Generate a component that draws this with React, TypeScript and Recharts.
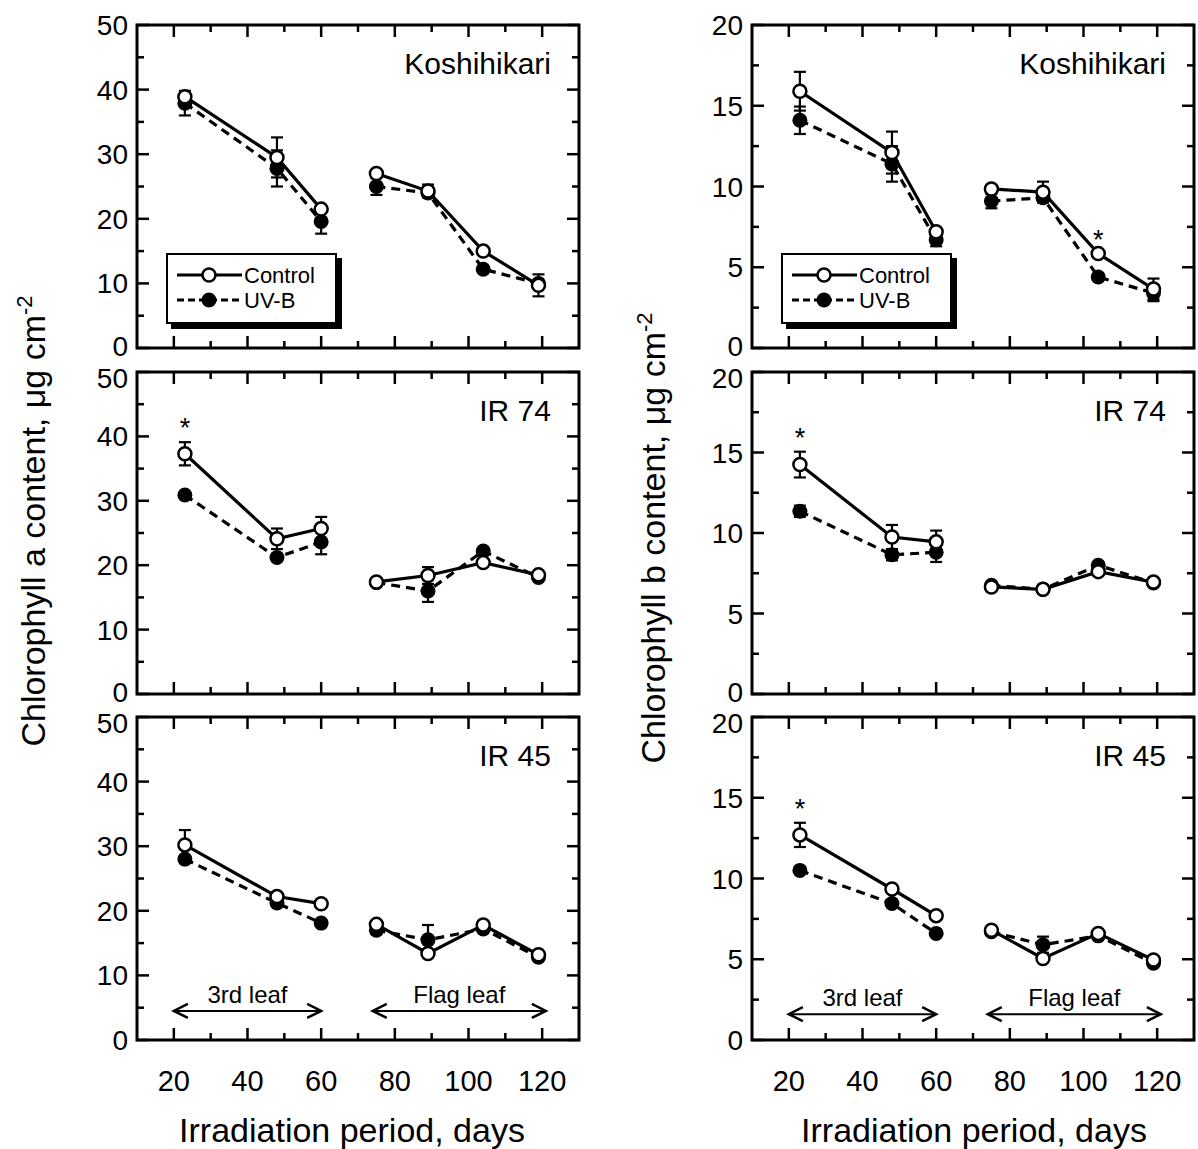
import React from 'react';
import { LineChart, Line, XAxis, YAxis, ErrorBar, ReferenceArea, ReferenceLine, ReferenceDot, Legend } from 'recharts';

// ---------- data ----------
const days = [23, 48, 60, 75, 89, 104, 119];
const leafStage = ['3rd', '3rd', '3rd', 'flag', 'flag', 'flag', 'flag'];
const xTicks = [20, 30, 40, 50, 60, 70, 80, 90, 100, 110, 120];
const yTicksA = [0, 5, 10, 15, 20, 25, 30, 35, 40, 45, 50];
const yTicksB = [0, 2.5, 5, 7.5, 10, 12.5, 15, 17.5, 20];
const leafPeriods = [
  { label: '3rd leaf', from: 20, to: 60 },
  { label: 'Flag leaf', from: 74, to: 121 },
];

// Chlorophyll a (µg cm-2)
const kosA_control = [38.9, 29.5, 21.5, 27.0, 24.3, 15.0, 9.7];
const kosA_controlErr = [0, 3.1, 0, 0, 1.0, 0, 1.7];
const kosA_uvb = [37.9, 27.8, 19.6, 25.0, 24.0, 12.2, 10.0];
const kosA_uvbErr = [1.9, 2.8, 1.9, 1.3, 0, 0, 0];

const ir74A_control = [37.3, 24.1, 25.7, 17.4, 18.4, 20.4, 18.5];
const ir74A_controlErr = [1.8, 1.6, 1.8, 0, 1.3, 0, 0];
const ir74A_uvb = [30.9, 21.2, 23.6, 17.3, 16.0, 22.2, 18.1];
const ir74A_uvbErr = [0, 0, 1.9, 0, 1.7, 0, 0];

const ir45A_control = [30.2, 22.2, 21.1, 17.9, 13.4, 17.8, 13.2];
const ir45A_controlErr = [2.3, 0, 0, 0, 0, 0, 0];
const ir45A_uvb = [28.0, 21.2, 18.1, 17.0, 15.5, 17.2, 12.8];
const ir45A_uvbErr = [0, 0, 0, 0.6, 2.3, 0, 0];

// Chlorophyll b (µg cm-2)
const kosB_control = [15.9, 12.1, 7.2, 9.85, 9.65, 5.85, 3.65];
const kosB_controlErr = [1.2, 1.3, 0, 0, 0.65, 0, 0.65];
const kosB_uvb = [14.1, 11.4, 6.7, 9.1, 9.3, 4.4, 3.4];
const kosB_uvbErr = [0.85, 1.1, 0.4, 0.45, 0, 0, 0.5];

const ir74B_control = [14.25, 9.75, 9.45, 6.65, 6.5, 7.6, 6.95];
const ir74B_controlErr = [0.8, 0.75, 0.7, 0, 0, 0, 0];
const ir74B_uvb = [11.35, 8.65, 8.8, 6.75, 6.5, 8.0, 6.9];
const ir74B_uvbErr = [0.35, 0.35, 0.6, 0, 0, 0, 0];

const ir45B_control = [12.7, 9.35, 7.7, 6.8, 5.05, 6.6, 4.95];
const ir45B_controlErr = [0.75, 0, 0, 0, 0, 0, 0];
const ir45B_uvb = [10.5, 8.45, 6.6, 6.7, 5.9, 6.45, 4.75];
const ir45B_uvbErr = [0, 0, 0, 0, 0.5, 0, 0];

// significance marks (days)
const starsKosA: number[] = [];
const starsKosB = [104];
const starsIr74A = [23];
const starsIr74B = [23];
const starsIr45A: number[] = [];
const starsIr45B = [23];

const FONT = '"Liberation Sans", Arial, Helvetica, sans-serif';
const TICK_FONT = 28;

// ---------- ticks ----------
const BottomTick = (p: any) => {
  const v = p.payload.value;
  const major = v % 20 === 0;
  return (
    <g>
      <line x1={p.x} x2={p.x} y1={p.y} y2={p.y - (major ? 12 : 7)} stroke="#000" strokeWidth={2.5} />
      {p.showLabel && major ? (
        <text x={p.x} y={p.y + 51} textAnchor="middle" fontSize={TICK_FONT + 1} fontFamily={FONT} fill="#000">
          {v}
        </text>
      ) : null}
    </g>
  );
};
const TopTick = (p: any) => {
  const v = p.payload.value;
  const major = v % 20 === 0;
  return <line x1={p.x} x2={p.x} y1={p.y} y2={p.y + (major ? 12 : 7)} stroke="#000" strokeWidth={2.5} />;
};
const LeftTick = (p: any) => {
  const v = p.payload.value;
  const major = v % p.major === 0;
  // labels at the joint between stacked panels are nudged apart, as in the original
  const nudge = v === p.yMax && p.shiftTop ? 6 : v === 0 && p.shiftBottom ? -2 : 0;
  return (
    <g>
      <line x1={p.x} x2={p.x + (major ? 12 : 7)} y1={p.y} y2={p.y} stroke="#000" strokeWidth={2.5} />
      {major ? (
        <text x={p.x - 9} y={p.y + nudge} dy="0.36em" textAnchor="end" fontSize={TICK_FONT} fontFamily={FONT} fill="#000">
          {v}
        </text>
      ) : null}
    </g>
  );
};
const RightTick = (p: any) => {
  const v = p.payload.value;
  const major = v % p.major === 0;
  return <line x1={p.x} x2={p.x - (major ? 12 : 7)} y1={p.y} y2={p.y} stroke="#000" strokeWidth={2.5} />;
};

const ArrowShape = (p: any) => {
  const { x1, y1, x2, text } = p;
  const y = y1;
  const h = 14;
  const v = 7;
  return (
    <g>
      <line x1={x1} y1={y} x2={x2} y2={y} stroke="#000" strokeWidth={2} />
      <polyline points={`${x1 + h},${y - v} ${x1},${y} ${x1 + h},${y + v}`} fill="none" stroke="#000" strokeWidth={2.5} />
      <polyline points={`${x2 - h},${y - v} ${x2},${y} ${x2 - h},${y + v}`} fill="none" stroke="#000" strokeWidth={2.5} />
      <text x={(x1 + x2) / 2} y={y - 8} textAnchor="middle" fontSize={24} fontFamily={FONT} fill="#000">
        {text}
      </text>
    </g>
  );
};

const LegendBox = () => (
  <svg width={180} height={80} style={{ display: 'block' }}>
    <rect x={5} y={5} width={171} height={71} fill="#000" />
    <rect x={1} y={1} width={169} height={69} fill="#fff" stroke="#000" strokeWidth={2} />
    <line x1={11} x2={76} y1={22} y2={22} stroke="#000" strokeWidth={3} />
    <circle cx={43} cy={22} r={6.5} fill="#fff" stroke="#000" strokeWidth={2.5} />
    <text x={78} y={22} dy="0.36em" fontSize={22} fontFamily={FONT} fill="#000">Control</text>
    <line x1={11} x2={76} y1={47} y2={47} stroke="#000" strokeWidth={3} strokeDasharray="7 4" />
    <circle cx={43} cy={47} r={7.5} fill="#000" />
    <text x={78} y={47} dy="0.36em" fontSize={22} fontFamily={FONT} fill="#000">UV-B</text>
  </svg>
);

type PanelProps = {
  plotLeft: number;
  plotTop: number;
  plotW: number;
  plotH: number;
  yMax: number;
  yTicks: number[];
  yMajor: number;
  ctrl: number[];
  ctrlErr: number[];
  uvb: number[];
  uvbErr: number[];
  title: string;
  stars: number[];
  showX: boolean;
  row: number;
  legend?: boolean;
  arrowY?: number;
};

function Panel(props: PanelProps) {
  const { plotLeft, plotTop, plotW, plotH, yMax, yTicks, yMajor, ctrl, ctrlErr, uvb, uvbErr, title, stars, showX, row, legend, arrowY } = props;
  const padL = 75;
  const padT = 22;
  const padR = 12;
  const padB = showX ? 64 : 20;
  const W = plotW + padL + padR;
  const H = plotH + padT + padB;

  const build = (vals: number[], errs: number[], key: string) =>
    days.map((d, i) => ({ day: d, stage: leafStage[i], [key]: vals[i], [key + 'Err']: errs[i] ? errs[i] : null }));
  const cRows = build(ctrl, ctrlErr, 'control');
  const uRows = build(uvb, uvbErr, 'uvb');
  const seg = (rows: any[], s: string) => rows.filter((r) => r.stage === s);

  const uvbLine = (s: string) => (
    <Line
      key={'u' + s}
      xAxisId="b"
      yAxisId="l"
      data={seg(uRows, s)}
      dataKey="uvb"
      stroke="#000"
      strokeWidth={3.2}
      strokeDasharray="9 6"
      dot={{ r: 7.5, fill: '#000', stroke: 'none', strokeDasharray: '' }}
      activeDot={false}
      isAnimationActive={false}
    >
      <ErrorBar dataKey="uvbErr" direction="y" width={6} stroke="#000" strokeWidth={2.2} />
    </Line>
  );
  const ctrlLine = (s: string) => (
    <Line
      key={'c' + s}
      xAxisId="b"
      yAxisId="l"
      data={seg(cRows, s)}
      dataKey="control"
      stroke="#000"
      strokeWidth={3.2}
      dot={{ r: 6.5, fill: '#fff', stroke: '#000', strokeWidth: 2.5 }}
      activeDot={false}
      isAnimationActive={false}
    >
      <ErrorBar dataKey="controlErr" direction="y" width={6} stroke="#000" strokeWidth={2.2} />
    </Line>
  );

  return (
    <div style={{ position: 'absolute', left: plotLeft - padL, top: plotTop - padT, width: W, height: H }}>
      <LineChart width={W} height={H} margin={{ top: 0, right: 0, bottom: 0, left: 0 }} style={{ overflow: 'visible' }}>
        <XAxis
          xAxisId="b"
          orientation="bottom"
          type="number"
          dataKey="day"
          domain={[10, 130]}
          ticks={xTicks}
          interval={0}
          height={padB}
          axisLine={false}
          tickLine={false}
          tickSize={0}
          tickMargin={0}
          allowDataOverflow
          tick={(p: any) => <BottomTick {...p} showLabel={showX} />}
        />
        <XAxis
          xAxisId="t"
          orientation="top"
          type="number"
          dataKey="day"
          domain={[10, 130]}
          ticks={xTicks}
          interval={0}
          height={padT}
          axisLine={false}
          tickLine={false}
          tickSize={0}
          tickMargin={0}
          allowDataOverflow
          tick={(p: any) => <TopTick {...p} />}
        />
        <YAxis
          yAxisId="l"
          orientation="left"
          type="number"
          domain={[0, yMax]}
          ticks={yTicks}
          interval={0}
          width={padL}
          axisLine={false}
          tickLine={false}
          tickSize={0}
          tickMargin={0}
          allowDataOverflow
          tick={(p: any) => <LeftTick {...p} major={yMajor} yMax={yMax} shiftTop={row > 0} shiftBottom={!showX} />}
        />
        <YAxis
          yAxisId="r"
          orientation="right"
          type="number"
          domain={[0, yMax]}
          ticks={yTicks}
          interval={0}
          width={padR}
          axisLine={false}
          tickLine={false}
          tickSize={0}
          tickMargin={0}
          allowDataOverflow
          tick={(p: any) => <RightTick {...p} major={yMajor} />}
        />
        <ReferenceArea
          xAxisId="b"
          yAxisId="l"
          x1={10}
          x2={130}
          y1={0}
          y2={yMax}
          fill="none"
          fillOpacity={0}
          stroke="#000"
          strokeWidth={3}
          ifOverflow="visible"
          label={{ value: title, position: 'insideTopRight', offset: 28, fontSize: 30, fill: '#000', fontFamily: FONT }}
        />
        {arrowY !== undefined
          ? leafPeriods.map((lp) => (
              <ReferenceLine
                key={lp.label}
                xAxisId="b"
                yAxisId="l"
                segment={[
                  { x: lp.from, y: arrowY },
                  { x: lp.to, y: arrowY },
                ]}
                ifOverflow="visible"
                shape={(sp: any) => <ArrowShape {...sp} text={lp.label} />}
              />
            ))
          : null}
        {uvbLine('3rd')}
        {uvbLine('flag')}
        {ctrlLine('3rd')}
        {ctrlLine('flag')}
        {stars.map((d) => {
          const i = days.indexOf(d);
          return (
            <ReferenceDot
              key={'s' + d}
              xAxisId="b"
              yAxisId="l"
              x={d}
              y={ctrl[i] + (ctrlErr[i] || 0)}
              r={0}
              fill="none"
              stroke="none"
              ifOverflow="visible"
              label={{ value: '*', position: 'top', offset: 5, fontSize: 27, fill: '#000', fontFamily: FONT }}
            />
          );
        })}
        {legend ? (
          <Legend
            layout="vertical"
            align="center"
            verticalAlign="middle"
            content={<LegendBox />}
            wrapperStyle={{ left: padL + 29, top: padT + 228, width: 180, height: 80 }}
          />
        ) : null}
      </LineChart>
    </div>
  );
}

const COL_A = { left: 137, w: 442 };
const COL_B = { left: 752, w: 442 };
const ROWS = [
  { top: 25, h: 323 },
  { top: 372, h: 322 },
  { top: 717, h: 323 },
];

export default function App() {
  return (
    <div
      style={{
        position: 'absolute',
        left: 0,
        top: 0,
        width: 1198,
        height: 1149,
        background: '#fff',
        fontFamily: FONT,
        overflow: 'hidden',
      }}
    >
      <Panel plotLeft={COL_A.left} plotTop={ROWS[0].top} plotW={COL_A.w} plotH={ROWS[0].h} yMax={50} yTicks={yTicksA} yMajor={10} row={0}
        ctrl={kosA_control} ctrlErr={kosA_controlErr} uvb={kosA_uvb} uvbErr={kosA_uvbErr} title="Koshihikari" stars={starsKosA} showX={false} legend />
      <Panel plotLeft={COL_A.left} plotTop={ROWS[1].top} plotW={COL_A.w} plotH={ROWS[1].h} yMax={50} yTicks={yTicksA} yMajor={10} row={1}
        ctrl={ir74A_control} ctrlErr={ir74A_controlErr} uvb={ir74A_uvb} uvbErr={ir74A_uvbErr} title="IR 74" stars={starsIr74A} showX={false} />
      <Panel plotLeft={COL_A.left} plotTop={ROWS[2].top} plotW={COL_A.w} plotH={ROWS[2].h} yMax={50} yTicks={yTicksA} yMajor={10} row={2}
        ctrl={ir45A_control} ctrlErr={ir45A_controlErr} uvb={ir45A_uvb} uvbErr={ir45A_uvbErr} title="IR 45" stars={starsIr45A} showX arrowY={4.5} />

      <Panel plotLeft={COL_B.left} plotTop={ROWS[0].top} plotW={COL_B.w} plotH={ROWS[0].h} yMax={20} yTicks={yTicksB} yMajor={5} row={0}
        ctrl={kosB_control} ctrlErr={kosB_controlErr} uvb={kosB_uvb} uvbErr={kosB_uvbErr} title="Koshihikari" stars={starsKosB} showX={false} legend />
      <Panel plotLeft={COL_B.left} plotTop={ROWS[1].top} plotW={COL_B.w} plotH={ROWS[1].h} yMax={20} yTicks={yTicksB} yMajor={5} row={1}
        ctrl={ir74B_control} ctrlErr={ir74B_controlErr} uvb={ir74B_uvb} uvbErr={ir74B_uvbErr} title="IR 74" stars={starsIr74B} showX={false} />
      <Panel plotLeft={COL_B.left} plotTop={ROWS[2].top} plotW={COL_B.w} plotH={ROWS[2].h} yMax={20} yTicks={yTicksB} yMajor={5} row={2}
        ctrl={ir45B_control} ctrlErr={ir45B_controlErr} uvb={ir45B_uvb} uvbErr={ir45B_uvbErr} title="IR 45" stars={starsIr45B} showX arrowY={1.6} />

      <svg width={1198} height={1149} style={{ position: 'absolute', left: 0, top: 0, pointerEvents: 'none' }}>
        <text transform="translate(45,521) rotate(-90)" textAnchor="middle" fontSize={34} fontFamily={FONT} fill="#000">
          Chlorophyll a content, μg cm<tspan dy={-13} fontSize={22}>-2</tspan>
        </text>
        <text transform="translate(665,538) rotate(-90)" textAnchor="middle" fontSize={34} fontFamily={FONT} fill="#000">
          Chlorophyll b content, μg cm<tspan dy={-13} fontSize={22}>-2</tspan>
        </text>
        <text x={352} y={1142} textAnchor="middle" fontSize={34} fontFamily={FONT} fill="#000">
          Irradiation period, days
        </text>
        <text x={974} y={1142} textAnchor="middle" fontSize={34} fontFamily={FONT} fill="#000">
          Irradiation period, days
        </text>
      </svg>
    </div>
  );
}
